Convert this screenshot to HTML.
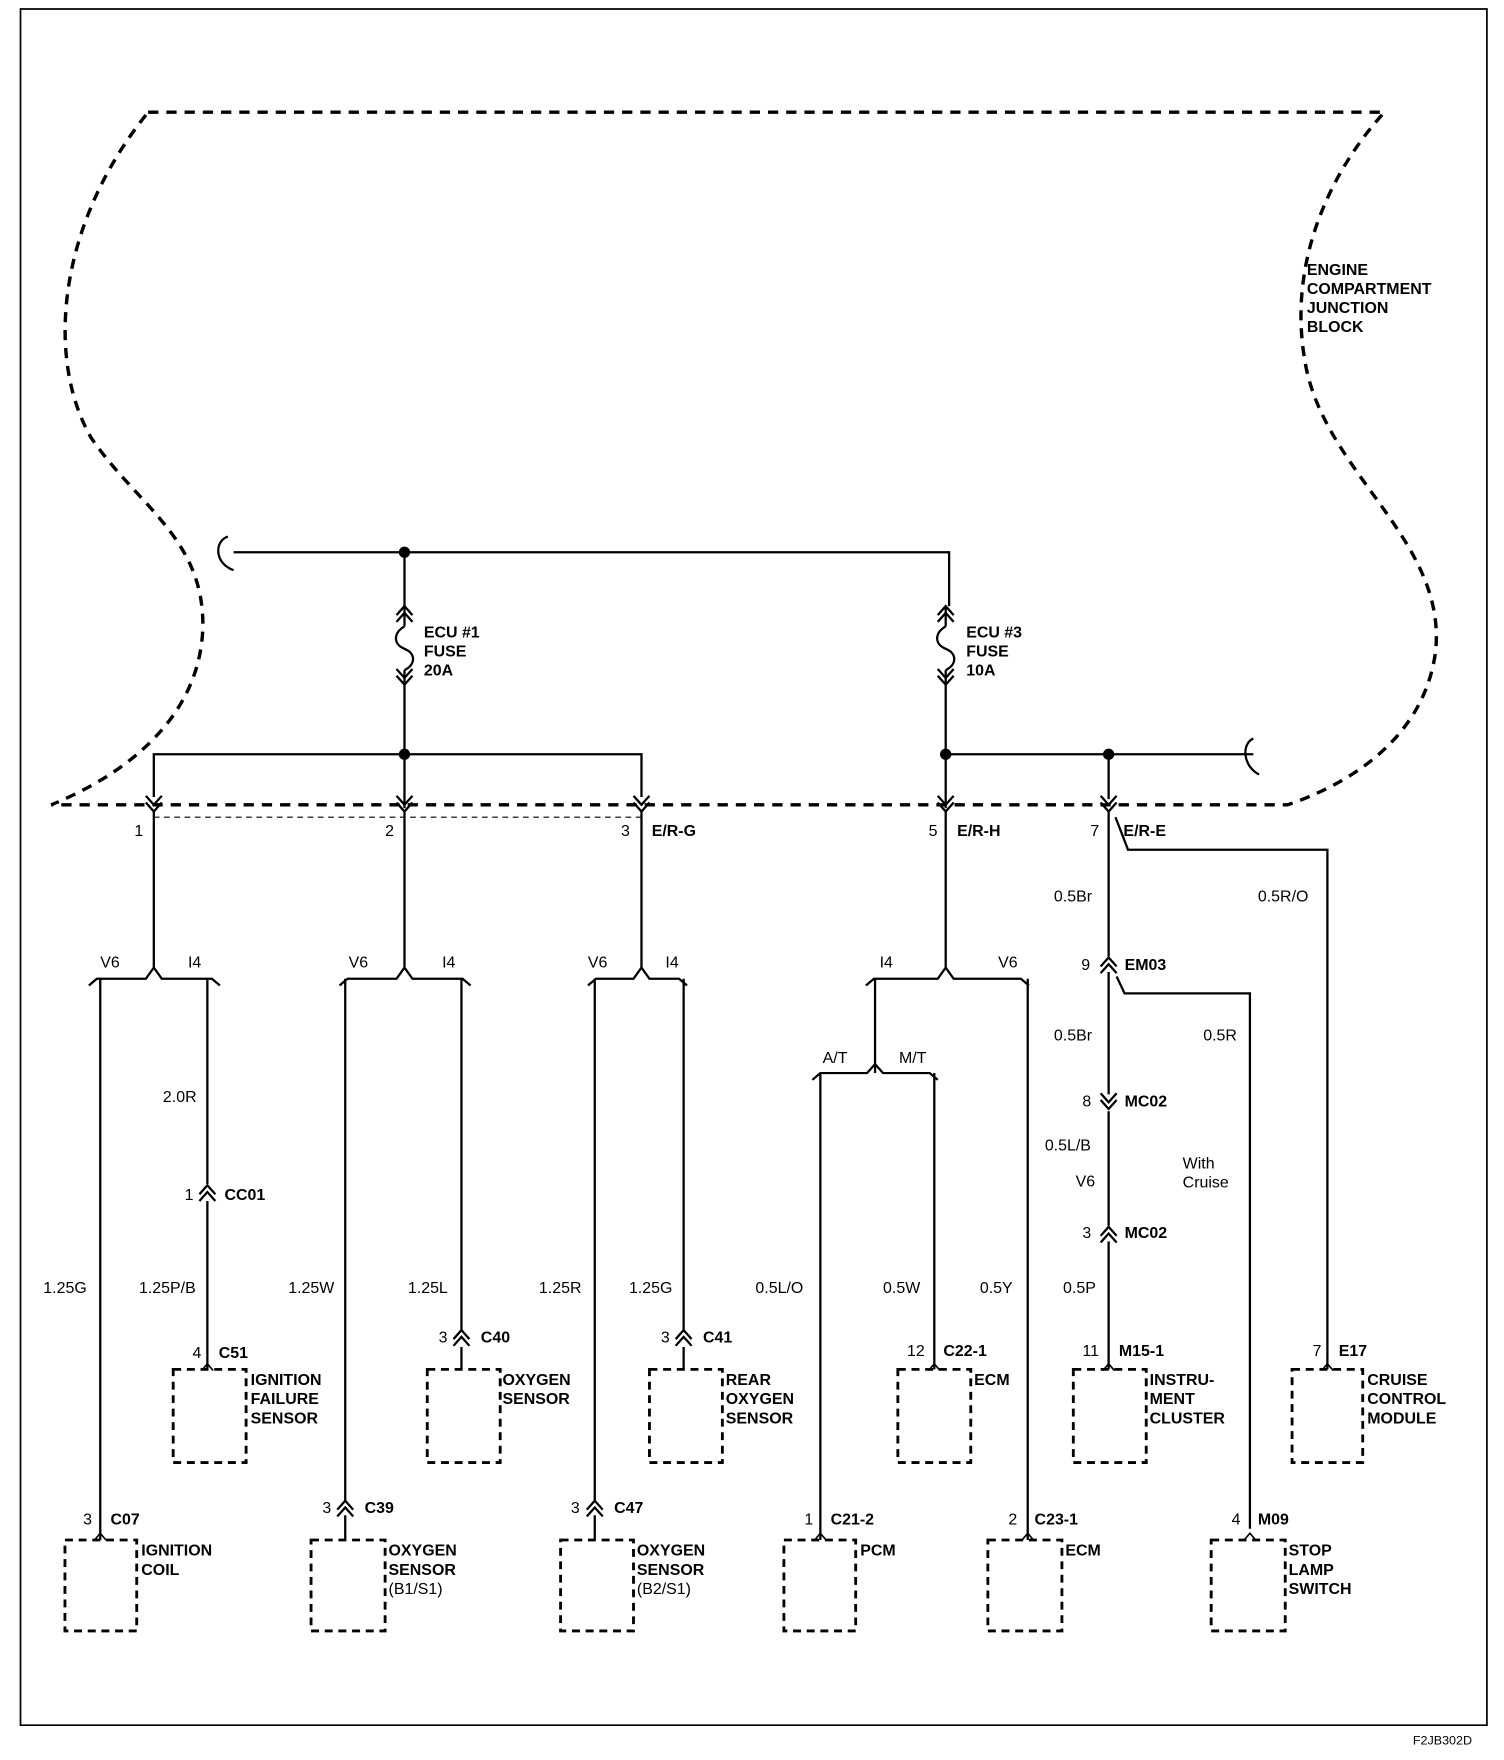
<!DOCTYPE html>
<html><head><meta charset="utf-8"><style>
html,body{margin:0;padding:0;background:#fff;}
svg{display:block}
text{font-family:"Liberation Sans",Arial,sans-serif;fill:#000;font-size:14px}
.b{font-weight:bold}
</style></head><body>
<svg width="1504" height="1760" viewBox="0 0 1320 1568" preserveAspectRatio="none" xmlns="http://www.w3.org/2000/svg">
<defs>
<g id="up" fill="none" stroke="#000" stroke-width="2"><path d="M-7,3 L0,-5 L7,3"/><path d="M-7,9 L0,1 L7,9"/></g>
<g id="dn" fill="none" stroke="#000" stroke-width="2"><path d="M-7,-3 L0,5 L7,-3"/><path d="M-7,-9 L0,-1 L7,-9"/></g>
<g id="tip" fill="none" stroke="#000" stroke-width="1.5"><path d="M-5,6 L0,0 L5,6"/></g>
</defs>
<g fill="none" stroke="#000">
<!-- border -->
<path d="M18,8 H1305 V1537 H18 Z" stroke-width="1.5"/>
<!-- cloud -->
<path d="M130,100 H1215 C1170,150 1130,230 1145,320 C1160,420 1270,480 1260,580 C1250,660 1180,700 1130,717 H45 C110,690 175,640 178,560 C180,480 120,450 80,390 C40,320 50,200 130,100 Z" stroke-width="3" stroke-dasharray="9,7"/>
<path d="M135,728 H563" stroke-width="1" stroke-dasharray="5,4"/>
<g stroke-width="2">
<!-- bus -->
<path d="M205,492 H833 V540"/>
<path d="M200,478 C188,482 188,502 205,508"/>
<path d="M355,492 V540 M355,612 V720"/>
<path d="M830,612 V720"/>
<path d="M355,558 C345,564 345,574 355,578 C365,582 365,592 355,597"/>
<path d="M830,558 C820,564 820,574 830,578 C840,582 840,592 830,597"/>
<path d="M355,540 V558 M355,597 V612 M830,540 V558 M830,597 V612"/>
<path d="M135,710 V672 H563 V710"/>
<path d="M830,672 H1100"/>
<path d="M1100,658 C1090,662 1090,682 1105,690"/>
<path d="M973,672 V712"/>
<!-- verticals -->
<path d="M135,722 V862 M355,722 V862 M563,722 V862 M830,722 V862 M973,722 V852"/>
<path d="M78,878 L85,872 H128 L135,862 L142,872 H186 L193,878"/>
<path d="M298,878 L305,872 H348 L355,862 L362,872 H406 L413,878"/>
<path d="M516,878 L523,872 H556 L563,862 L570,872 H596 L603,878"/>
<path d="M760,878 L767,872 H823 L830,862 L837,872 H896 L903,878"/>
<path d="M713,962 L720,956 H761 L768,948 L775,956 H816 L823,962"/>
<path d="M88,872 V1372 M182,872 V1055 M182,1070 V1220"/>
<path d="M303,872 V1338 M303,1350 V1372 M405,872 V1185 M405,1200 V1220"/>
<path d="M522,872 V1338 M522,1350 V1372 M600,872 V1185 M600,1200 V1220"/>
<path d="M768,872 V956 M720,956 V1372 M820,956 V1220 M902,872 V1372"/>
<path d="M973,866 V975 M973,990 V1092 M973,1106 V1220"/>
<path d="M979,728 L990,757 H1165 V1220"/>
<path d="M980,870 L987,885 H1097 V1362"/>
</g>
<!-- boxes -->
<g stroke-width="2.5" stroke-dasharray="7,5">
<rect x="152" y="1220" width="64" height="83"/>
<rect x="375" y="1220" width="64" height="83"/>
<rect x="570" y="1220" width="64" height="83"/>
<rect x="788" y="1220" width="64" height="83"/>
<rect x="942" y="1220" width="64" height="83"/>
<rect x="1134" y="1220" width="62" height="83"/>
<rect x="57" y="1372" width="63" height="81"/>
<rect x="273" y="1372" width="65" height="81"/>
<rect x="492" y="1372" width="64" height="81"/>
<rect x="688" y="1372" width="63" height="81"/>
<rect x="867" y="1372" width="65" height="81"/>
<rect x="1063" y="1372" width="65" height="81"/>
</g>
</g>
<g fill="#000"><circle cx="355" cy="492" r="5"/><circle cx="355" cy="672" r="5"/><circle cx="830" cy="672" r="5"/><circle cx="973" cy="672" r="5"/></g>
<use href="#up" x="355" y="545"/><use href="#dn" x="355" y="605"/>
<use href="#up" x="830" y="545"/><use href="#dn" x="830" y="605"/>
<use href="#dn" x="135" y="718"/><use href="#dn" x="355" y="718"/><use href="#dn" x="563" y="718"/><use href="#dn" x="830" y="718"/><use href="#dn" x="973" y="718"/>
<use href="#up" x="182" y="1061"/><use href="#up" x="303" y="1342"/><use href="#up" x="405" y="1190"/><use href="#up" x="522" y="1342"/><use href="#up" x="600" y="1190"/>
<use href="#up" x="973" y="858"/><use href="#dn" x="973" y="983"/><use href="#up" x="973" y="1098"/>
<use href="#tip" x="182" y="1215"/><use href="#tip" x="88" y="1366"/><use href="#tip" x="720" y="1366"/><use href="#tip" x="820" y="1215"/><use href="#tip" x="902" y="1366"/><use href="#tip" x="973" y="1215"/><use href="#tip" x="1165" y="1215"/><use href="#tip" x="1097" y="1366"/>
<!-- text -->
<g class="b">
<text x="1147" y="245">ENGINE</text><text x="1147" y="262">COMPARTMENT</text><text x="1147" y="279">JUNCTION</text><text x="1147" y="296">BLOCK</text>
<text x="372" y="568">ECU #1</text><text x="372" y="585">FUSE</text><text x="372" y="602">20A</text>
<text x="848" y="568">ECU #3</text><text x="848" y="585">FUSE</text><text x="848" y="602">10A</text>
<text x="572" y="745">E/R-G</text><text x="840" y="745">E/R-H</text><text x="986" y="745">E/R-E</text>
<text x="987" y="864">EM03</text><text x="987" y="986">MC02</text><text x="987" y="1103">MC02</text>
<text x="197" y="1069">CC01</text><text x="192" y="1210">C51</text><text x="422" y="1196">C40</text><text x="617" y="1196">C41</text>
<text x="828" y="1208">C22-1</text><text x="982" y="1208">M15-1</text><text x="1175" y="1208">E17</text>
<text x="97" y="1358">C07</text><text x="320" y="1348">C39</text><text x="539" y="1348">C47</text><text x="729" y="1358">C21-2</text><text x="908" y="1358">C23-1</text><text x="1104" y="1358">M09</text>
<text x="220" y="1234">IGNITION</text><text x="220" y="1251">FAILURE</text><text x="220" y="1268">SENSOR</text>
<text x="441" y="1234">OXYGEN</text><text x="441" y="1251">SENSOR</text>
<text x="637" y="1234">REAR</text><text x="637" y="1251">OXYGEN</text><text x="637" y="1268">SENSOR</text>
<text x="855" y="1234">ECM</text>
<text x="1009" y="1234">INSTRU-</text><text x="1009" y="1251">MENT</text><text x="1009" y="1268">CLUSTER</text>
<text x="1200" y="1234">CRUISE</text><text x="1200" y="1251">CONTROL</text><text x="1200" y="1268">MODULE</text>
<text x="124" y="1386">IGNITION</text><text x="124" y="1403">COIL</text>
<text x="341" y="1386">OXYGEN</text><text x="341" y="1403">SENSOR</text><text x="341" y="1420" style="font-weight:normal">(B1/S1)</text>
<text x="559" y="1386">OXYGEN</text><text x="559" y="1403">SENSOR</text><text x="559" y="1420" style="font-weight:normal">(B2/S1)</text>
<text x="755" y="1386">PCM</text><text x="935" y="1386">ECM</text>
<text x="1131" y="1386">STOP</text><text x="1131" y="1403">LAMP</text><text x="1131" y="1420">SWITCH</text>
</g>
<g>
<text x="118" y="745">1</text><text x="338" y="745">2</text><text x="545" y="745">3</text><text x="815" y="745">5</text><text x="957" y="745">7</text>
<text x="925" y="803">0.5Br</text><text x="1104" y="803">0.5R/O</text>
<text x="88" y="862">V6</text><text x="165" y="862">I4</text><text x="306" y="862">V6</text><text x="388" y="862">I4</text>
<text x="516" y="862">V6</text><text x="584" y="862">I4</text><text x="772" y="862">I4</text><text x="876" y="862">V6</text>
<text x="949" y="864">9</text>
<text x="925" y="927">0.5Br</text><text x="1056" y="927">0.5R</text>
<text x="722" y="947">A/T</text><text x="789" y="947">M/T</text>
<text x="143" y="982">2.0R</text>
<text x="950" y="986">8</text><text x="917" y="1025">0.5L/B</text><text x="1038" y="1041">With</text><text x="1038" y="1058">Cruise</text>
<text x="944" y="1057">V6</text><text x="950" y="1103">3</text>
<text x="162" y="1069">1</text>
<text x="38" y="1152">1.25G</text><text x="122" y="1152">1.25P/B</text><text x="253" y="1152">1.25W</text><text x="358" y="1152">1.25L</text>
<text x="473" y="1152">1.25R</text><text x="552" y="1152">1.25G</text><text x="663" y="1152">0.5L/O</text><text x="775" y="1152">0.5W</text>
<text x="860" y="1152">0.5Y</text><text x="933" y="1152">0.5P</text>
<text x="169" y="1210">4</text><text x="385" y="1196">3</text><text x="580" y="1196">3</text><text x="796" y="1208">12</text><text x="950" y="1208">11</text><text x="1152" y="1208">7</text>
<text x="73" y="1358">3</text><text x="283" y="1348">3</text><text x="501" y="1348">3</text><text x="706" y="1358">1</text><text x="885" y="1358">2</text><text x="1081" y="1358">4</text>
<text x="1240" y="1554" style="font-size:11px">F2JB302D</text>
</g>
</svg>
</body></html>
